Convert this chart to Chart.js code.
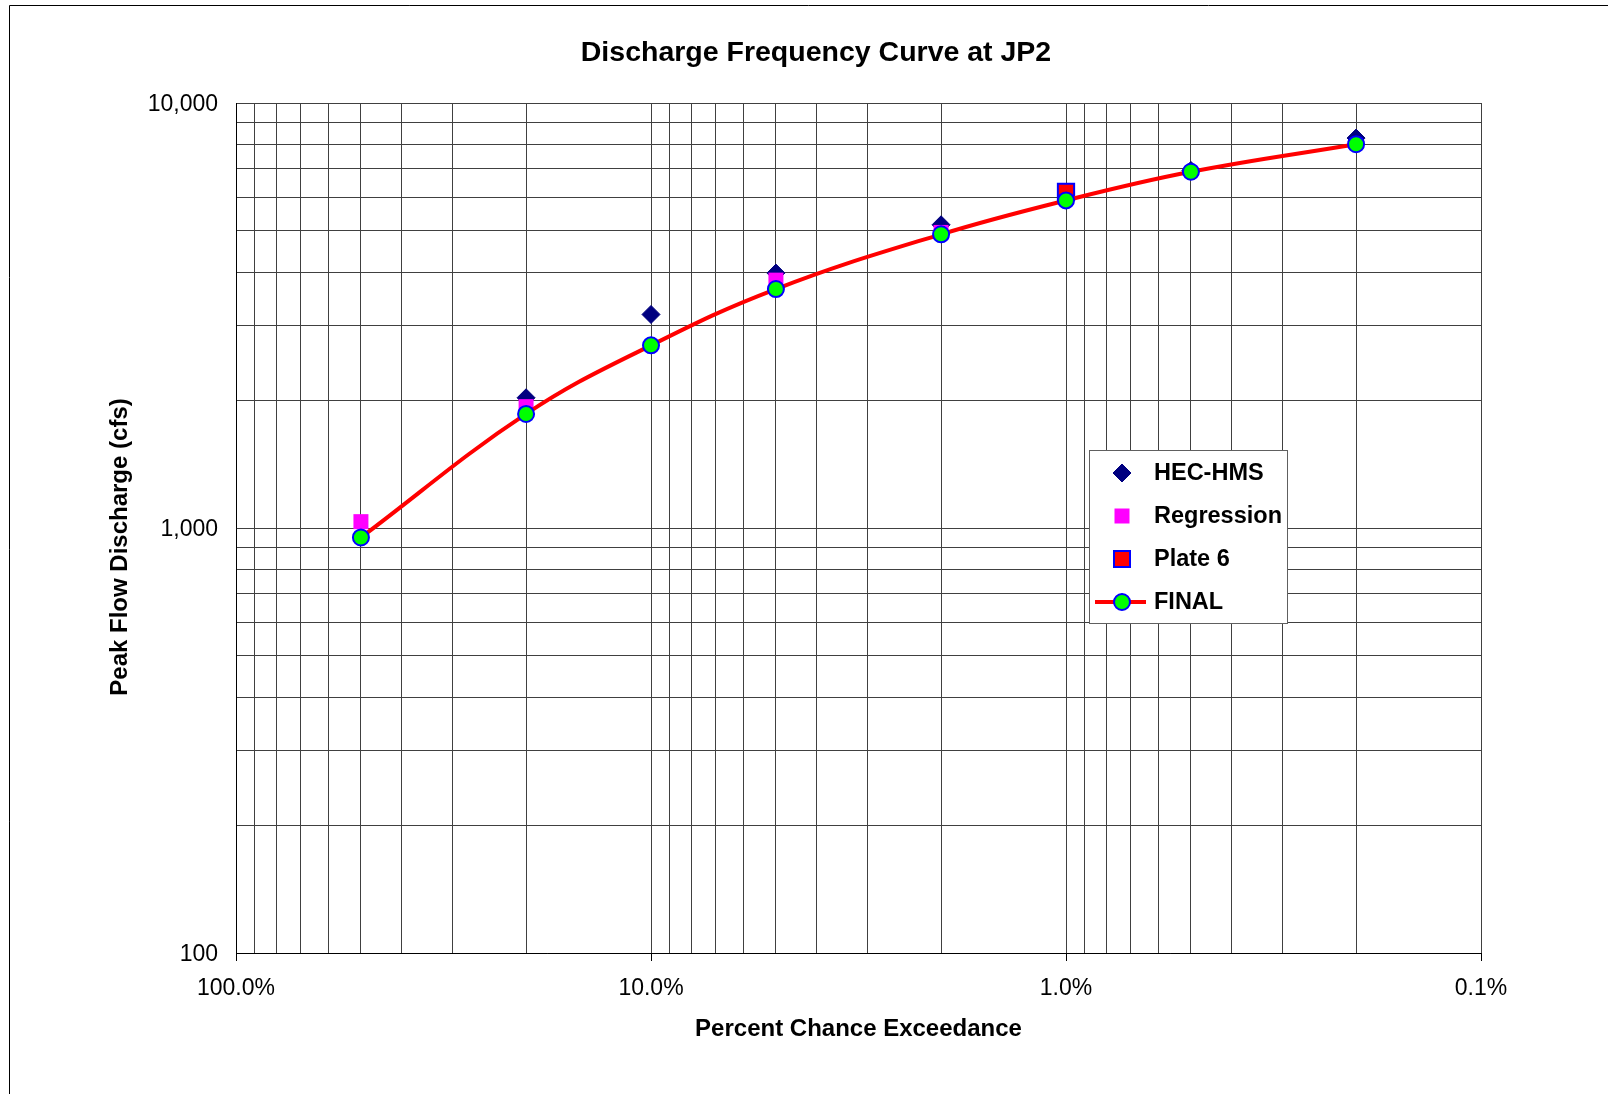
<!DOCTYPE html>
<html>
<head>
<meta charset="utf-8">
<title>Discharge Frequency Curve at JP2</title>
<script src="https://cdn.jsdelivr.net/npm/chart.js@4.4.1/dist/chart.umd.min.js"></script>
<style>
  html, body { margin: 0; padding: 0; background: #fff; }
  canvas { display: block; }
</style>
</head>
<body>
<canvas id="freqChart" width="1608" height="1094"></canvas>
<script>
// percent chance exceedance of each event
const exceedance = [50, 20, 10, 5, 2, 1, 0.5, 0.2];
// peak flow (cfs) per method, null where nothing is plotted
const hecHms     = [null, 2025, 3180, 3980, 5170, null, 6940, 8270];
const regression = [1035, 1930, null, 3830, 4960, null, null, null];
const plate6     = [null, null, null, null, null, 6180, null, null];
const finalQ     = [950, 1855, 2690, 3650, 4910, 5900, 6890, 8000];

// labelled ticks
const xLabelTicks = [100, 10, 1, 0.1];
const yLabelTicks = [100, 1000, 10000];

const FONT = "'Liberation Sans', Arial, sans-serif";
const GRID = '#404040';

// helpers
function pts(vals) {
  return exceedance.map((x, i) => ({ x: x, y: vals[i] })).filter(p => p.y != null);
}
function isLabelTick(list, v) {
  return list.some(t => Math.abs(t - v) / t < 1e-6);
}
// 1..9 x 10^e for every decade between lo and hi
function decadeTicks(lo, hi) {
  const out = [];
  for (let e = Math.round(Math.log10(lo)); e < Math.round(Math.log10(hi)); e++) {
    for (let m = 1; m < 10; m++) out.push(Number((m * Math.pow(10, e)).toPrecision(6)));
  }
  out.push(hi);
  return out;
}

// legend symbols, same look as the points
function marker(c, kind, x, y) {
  c.save();
  c.beginPath();
  if (kind === 'diamond') {
    c.moveTo(x, y - 9); c.lineTo(x + 9, y); c.lineTo(x, y + 9); c.lineTo(x - 9, y); c.closePath();
    c.fillStyle = '#000080'; c.fill();
    c.strokeStyle = '#000080'; c.lineWidth = 1; c.stroke();
  } else if (kind === 'pink') {
    c.rect(x - 7.5, y - 7.5, 15, 15);
    c.fillStyle = '#FF00FF'; c.fill();
  } else if (kind === 'plate') {
    c.rect(x - 8, y - 8, 16, 16);
    c.fillStyle = '#FF0000'; c.fill();
    c.strokeStyle = '#0000FF'; c.lineWidth = 2; c.stroke();
  } else if (kind === 'final') {
    c.moveTo(x - 27, y); c.lineTo(x + 24, y);
    c.strokeStyle = '#FF0000'; c.lineWidth = 4; c.stroke();
    c.beginPath();
    c.arc(x, y, 8, 0, Math.PI * 2);
    c.fillStyle = '#00FF00'; c.fill();
    c.strokeStyle = '#0000FF'; c.lineWidth = 2; c.stroke();
  }
  c.restore();
}

const legendRows = [
  { text: 'HEC-HMS', kind: 'diamond' },
  { text: 'Regression', kind: 'pink' },
  { text: 'Plate 6', kind: 'plate' },
  { text: 'FINAL', kind: 'final' },
];

const extras = {
  id: 'extras',
  beforeDraw(chart) {
    const c = chart.ctx;
    c.save();
    c.fillStyle = '#fff';
    c.fillRect(0, 0, chart.width, chart.height);
    c.restore();
  },
  afterDraw(chart) {
    const c = chart.ctx;
    c.save();
    // outer frame
    c.strokeStyle = '#000'; c.lineWidth = 1;
    c.beginPath(); c.moveTo(9.5, 1094); c.lineTo(9.5, 5.5); c.lineTo(1608, 5.5); c.stroke();

    // chart title
    c.fillStyle = '#000';
    c.textAlign = 'center'; c.textBaseline = 'middle';
    c.font = 'bold 28.5px ' + FONT;
    c.fillText('Discharge Frequency Curve at JP2', 816, 53);

    // y axis title
    c.save();
    c.translate(120, 547); c.rotate(-Math.PI / 2);
    c.font = 'bold 24px ' + FONT;
    c.fillText('Peak Flow Discharge (cfs)', 0, 0);
    c.restore();

    // legend box
    c.fillStyle = '#fff';
    c.fillRect(1089.5, 450.5, 198, 173);
    c.strokeStyle = '#606060'; c.lineWidth = 1;
    c.strokeRect(1089.5, 450.5, 198, 173);
    c.font = 'bold 23.5px ' + FONT;
    c.textAlign = 'left';
    legendRows.forEach((r, i) => {
      const y = 473 + i * 43;
      marker(c, r.kind, 1122, y);
      c.fillStyle = '#000';
      c.fillText(r.text, 1154, y + 1);
    });
    c.restore();
  }
};

const xGrid = decadeTicks(0.1, 100);
const yGrid = decadeTicks(100, 10000);

new Chart(document.getElementById('freqChart'), {
  type: 'scatter',
  data: {
    datasets: [
      {
        label: 'HEC-HMS', data: pts(hecHms), showLine: false, order: 4,
        pointStyle: 'rectRot', pointRadius: 9, pointHoverRadius: 9,
        pointBackgroundColor: '#000080', pointBorderColor: '#000080', pointBorderWidth: 1
      },
      {
        label: 'Regression', data: pts(regression), showLine: false, order: 3,
        pointStyle: 'rect', pointRadius: 10.6, pointHoverRadius: 10.6,
        pointBackgroundColor: '#FF00FF', pointBorderColor: '#FF00FF', pointBorderWidth: 0
      },
      {
        label: 'Plate 6', data: pts(plate6), showLine: false, order: 2,
        pointStyle: 'rect', pointRadius: 11.5, pointHoverRadius: 11.5,
        pointBackgroundColor: '#FF0000', pointBorderColor: '#0000FF', pointBorderWidth: 2
      },
      {
        label: 'FINAL', data: pts(finalQ), showLine: true, order: 1,
        borderColor: '#FF0000', borderWidth: 4, tension: 0.4, fill: false,
        pointStyle: 'circle', pointRadius: 8, pointHoverRadius: 8,
        pointBackgroundColor: '#00FF00', pointBorderColor: '#0000FF', pointBorderWidth: 2
      }
    ]
  },
  options: {
    responsive: false,
    devicePixelRatio: 1,
    animation: false,
    layout: { padding: { left: 24, right: 127, top: 103, bottom: 0 } },
    plugins: {
      legend: { display: false },
      tooltip: { enabled: false },
      title: { display: false }
    },
    scales: {
      x: {
        type: 'logarithmic',
        reverse: true,
        min: 0.1,
        max: 100,
        afterBuildTicks: s => { s.ticks = xGrid.map(v => ({ value: v })); },
        afterFit: s => { s.height = 141; },
        grid: {
          color: GRID,
          lineWidth: 1,
          tickLength: 8,
          tickColor: ctx => (ctx.tick && isLabelTick(xLabelTicks, ctx.tick.value)) ? '#000' : 'rgba(0,0,0,0)'
        },
        border: { color: '#000' },
        ticks: {
          autoSkip: false,
          maxRotation: 0,
          padding: 14,
          color: '#000',
          font: { family: FONT, size: 23 },
          callback: v => isLabelTick(xLabelTicks, v) ? v.toFixed(1) + '%' : ''
        },
        title: {
          display: true,
          text: 'Percent Chance Exceedance',
          color: '#000',
          font: { family: FONT, size: 24, weight: 'bold' },
          padding: { top: 0, bottom: 50.5 }
        }
      },
      y: {
        type: 'logarithmic',
        min: 100,
        max: 10000,
        afterBuildTicks: s => { s.ticks = yGrid.map(v => ({ value: v })); },
        afterFit: s => { s.width = 212; },
        grid: { color: GRID, lineWidth: 1, drawTicks: false },
        border: { color: '#000' },
        ticks: {
          autoSkip: false,
          padding: 18,
          labelOffset: 2,
          color: '#000',
          font: { family: FONT, size: 23 },
          callback: v => isLabelTick(yLabelTicks, v) ? v.toLocaleString('en-US') : ''
        }
      }
    }
  },
  plugins: [extras]
});
</script>
</body>
</html>
